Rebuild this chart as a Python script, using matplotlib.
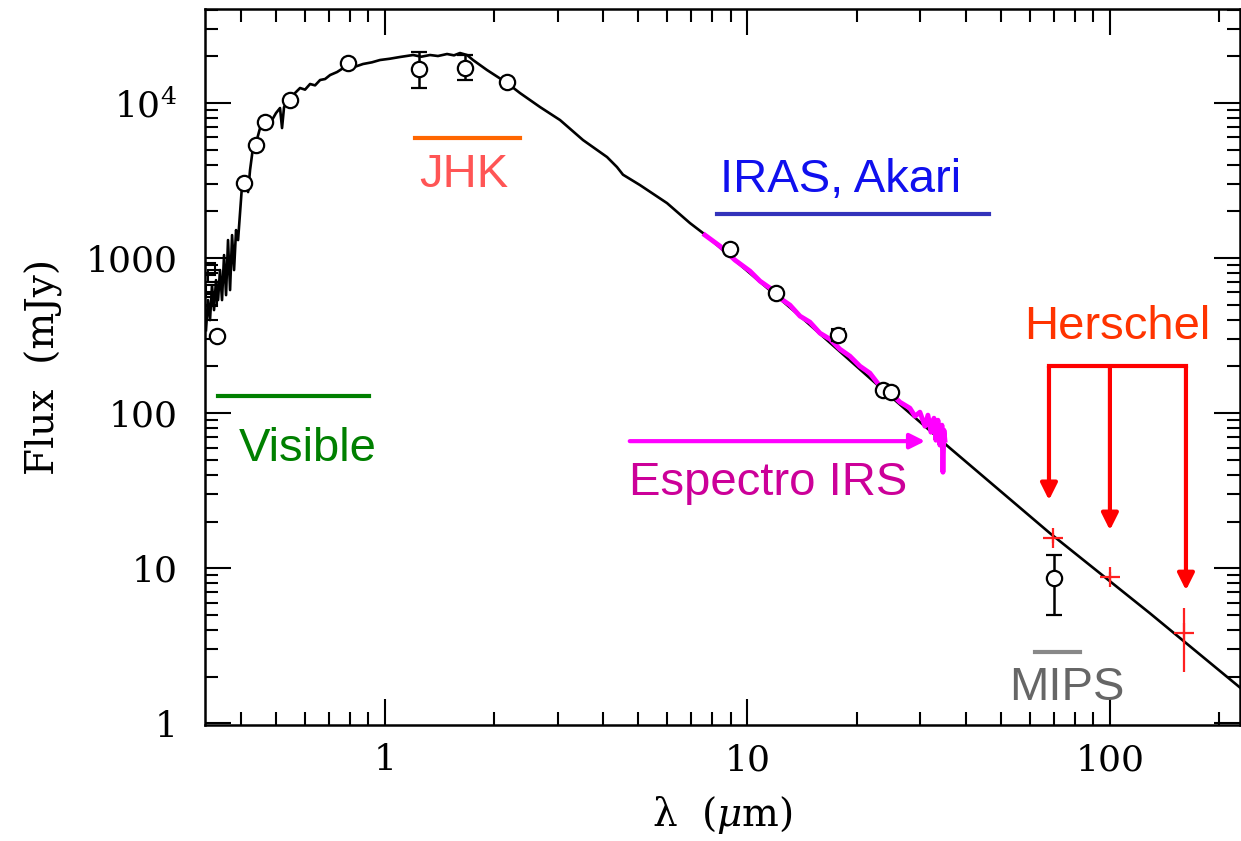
import numpy as np
import matplotlib.pyplot as plt

# model SED (mJy vs micron)
model_wl = [0.3207, 0.3248, 0.329, 0.3332, 0.3375, 0.3418, 0.3462, 0.3506, 0.3551, 0.3597,
            0.3643, 0.3689, 0.3737, 0.3785, 0.3833, 0.3882, 0.3932, 0.4033, 0.4084, 0.4137,
            0.419, 0.4243, 0.4325, 0.4407, 0.4521, 0.4637, 0.4756, 0.4879, 0.5004, 0.5133,
            0.5199, 0.5266, 0.5469, 0.5646, 0.5829, 0.6017, 0.6212, 0.6413, 0.6621, 0.6835,
            0.7056, 0.7376, 0.7903, 0.83, 0.8696, 0.92, 0.9687, 1.03, 1.100, 1.195, 1.26, 1.331,
            1.40, 1.483, 1.55, 1.610, 1.684, 1.749, 1.911, 2.171, 2.357, 2.677, 3.04, 3.518,
            4.098, 4.365, 4.535, 5.051, 5.998, 6.94, 7.54, 8.557, 13.96, 23.2, 36.2, 68.31,
            128.9, 229.8]
model_flux = [343, 536, 398, 669, 462, 721, 536, 837, 536, 1046,
              577, 1307, 622, 1407, 837, 1516, 1307, 2958, 3282, 3186,
              2666, 3696, 5201, 5520, 6897, 7654, 8123, 7768, 8620, 9284,
              6897, 9423, 10612, 11601, 12499, 12200, 13264, 13000, 14075, 14285,
              15155, 15849, 17589, 17200, 17852, 18300, 18942, 19300, 19810, 20400, 19900, 20400,
              20100, 20705, 20300, 21012, 20400, 18942, 16332, 13460, 11601, 9423, 7768, 5771,
              4484, 3865, 3450, 2958, 2263, 1682, 1450, 1126, 422.6, 147.2, 59.5, 16.82,
              5.126, 1.682]

# Spitzer IRS spectrum
irs_wl = [7.634, 8.397, 9.237, 10.16, 10.83, 11.54, 12.29, 13.10, 13.96, 14.87, 15.85,
          16.89, 17.99, 19.17, 20.43, 21.77, 23.20, 24.72, 26.34, 28.07, 28.98, 29.91,
          30.88, 31.47, 32.08, 32.70, 33.11, 33.54, 33.96, 34.40, 34.62, 34.84, 35.06]
irs_flux = [1407, 1195, 971, 824.6, 710.6, 640.6, 552.0, 497.6, 422.6, 386.5, 328.1,
            300.1, 258.8, 233.2, 201.0, 181.2, 149.4, 136.6, 117.8, 107.7, 95.6, 101.5,
            82.4, 97.1, 75.4, 92.8, 66.9, 90.1, 62.2, 83.7, 41.6, 77.7, 66.9]

# photometry (open circles)
phot_wl = [0.344, 0.408, 0.44, 0.467, 0.547, 0.79, 2.171, 8.946, 11.98, 17.77, 23.65, 24.88]
phot_flux = [314, 3050, 5360, 7540, 10450, 18100, 13600, 1143, 594.8, 318.6, 140.7, 136.6]

# photometry with error bars (2MASS J, H and MIPS 70)
err_wl = [1.24, 1.66, 70.07]
err_flux = [16600, 16820, 8.62]
err_lo = [12500, 14075, 4.977]
err_hi = [21330, 20400, 12.13]

# open squares
sq_wl = [0.3269, 0.3375, 0.3332, 0.331, 17.77]
sq_flux = [849, 765, 612.7, 536, 318.6]

# Herschel points
hers_wl = [69.6, 100.0, 160.0]
hers_flux = [15.63, 8.75, 3.81]
hers_lo = [14.5, 8.1, 2.13]
hers_hi = [16.8, 9.4, 5.52]

yticks = [1, 10, 100, 1000, 10000]
ytick_labels = ['1', '10', '100', '1000', '$10^4$']
xticks = [1, 10, 100]
xtick_labels = ['1', '10', '100']

plt.rcParams['mathtext.fontset'] = 'dejavuserif'

fig = plt.figure(figsize=(12.41, 8.41), dpi=100)
ax = fig.add_axes([205/1241, 116/841, 1035/1241, 716/841])
ax.set_xscale('log')
ax.set_yscale('log')
ax.set_xlim(0.3187, 228.5)
ax.set_ylim(0.975, 4.04e4)

ax.plot(model_wl, model_flux, color='black', lw=1.9, zorder=3)
ax.plot(irs_wl, irs_flux, color='#ff00ff', lw=3.5, zorder=4)

ax.plot(sq_wl, sq_flux, ls='none', marker='s', ms=9, mfc='none', mec='black', mew=1.5, zorder=5)
ax.plot(phot_wl, phot_flux, ls='none', marker='o', ms=11, mfc='white', mec='black', mew=1.6, zorder=6)
e = np.array(err_flux)
ax.errorbar(err_wl, err_flux, yerr=[e - np.array(err_lo), np.array(err_hi) - e],
            fmt='o', ms=11, mfc='white', mec='black', mew=1.6, ecolor='black',
            elinewidth=1.8, capsize=5.5, capthick=1.8, zorder=6)
h = np.array(hers_flux)
ax.errorbar(hers_wl, hers_flux, yerr=[h - np.array(hers_lo), np.array(hers_hi) - h],
            fmt='+', ms=15, mew=1.6, color='#ff2020', elinewidth=1.6, capsize=0, zorder=7)

# ticks
ax.set_yticks(yticks)
ax.set_yticklabels(ytick_labels)
ax.set_xticks(xticks)
ax.set_xticklabels(xtick_labels)
ax.tick_params(which='both', direction='in', top=True, right=True, width=1.5,
               labelsize=26, labelfontfamily='DejaVu Serif')
ax.tick_params(which='major', length=19, pad=20)
ax.tick_params(axis='x', which='major', pad=13)
ax.tick_params(which='minor', length=9.5)
for s in ax.spines.values():
    s.set_linewidth(1.8)

ax.set_xlabel('λ  ($\\mu$m)', fontsize=28, family='DejaVu Serif', labelpad=12)
ax.set_ylabel('Flux  (mJy)', fontsize=28, family='DejaVu Serif', labelpad=16)

# annotations
sans = 'Liberation Sans'
fs = 34
ax.plot([0.3462, 0.9034], [128.8, 128.8], color='#008000', lw=3)
ax.text(0.6133, 58.6, 'Visible', color='#008000', fontsize=fs, family=sans, ha='center', va='center')

ax.plot([1.21, 2.357], [5943, 5943], color='#ff6600', lw=3)
ax.text(1.652, 3432, 'JHK', color='#ff5555', fontsize=fs, family=sans, ha='center', va='center')

ax.plot([8.24, 46.4], [1923, 1923], color='#3333bb', lw=3)
ax.text(18.11, 3186, 'IRAS, Akari', color='#1010ee', fontsize=fs, family=sans, ha='center', va='center')

ax.annotate('', xy=(31.47, 66.0), xytext=(4.651, 66.0),
            arrowprops=dict(arrowstyle='-|>,head_length=0.9,head_width=0.45', color='#ff00ff', lw=3))
ax.text(11.39, 35.35, 'Espectro IRS', color='#cc0099', fontsize=fs, family=sans, ha='center', va='center')

ax.text(104.5, 358.7, 'Herschel', color='#ff3300', fontsize=fs, family=sans, ha='center', va='center')
ax.plot([67.9, 162.1], [201, 201], color='#ff0000', lw=3, solid_capstyle='projecting')
for xw, tip in zip([67.9, 100.0, 162.1], [27.5, 17.6, 7.21]):
    ax.annotate('', xy=(xw, tip), xytext=(xw, 201),
                arrowprops=dict(arrowstyle='-|>,head_length=1.0,head_width=0.5', color='#ff0000',
                                lw=3, shrinkA=0, shrinkB=0))

ax.plot([62.1, 82.6], [2.871, 2.871], color='#888888', lw=3)
ax.text(76.1, 1.683, 'MIPS', color='#666666', fontsize=fs, family=sans, ha='center', va='center')

fig.savefig('out.png', dpi=100)
